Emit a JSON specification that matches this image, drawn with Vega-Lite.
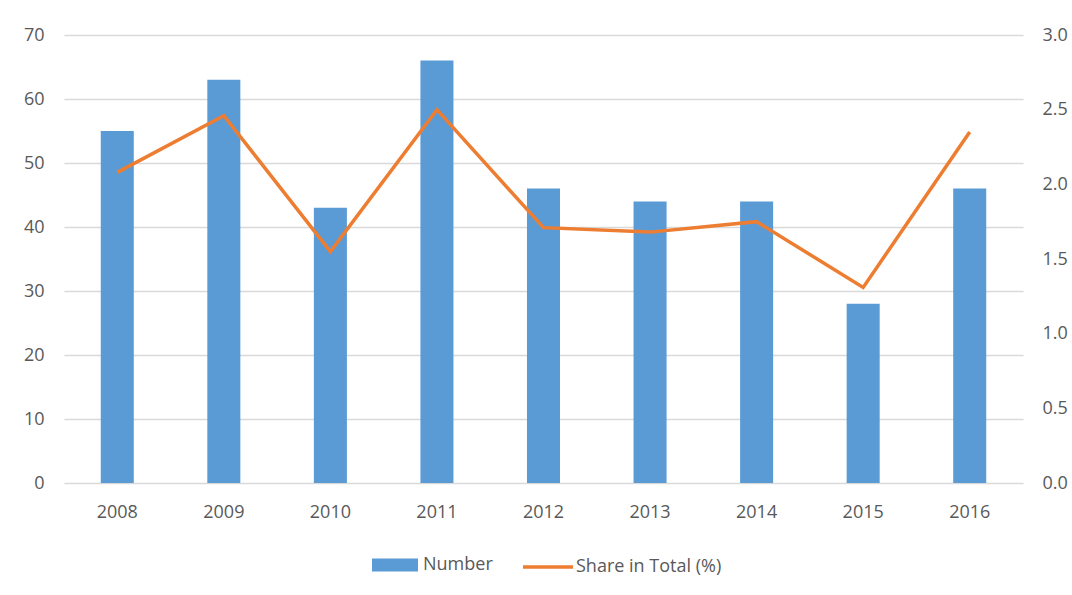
{
  "$schema": "https://vega.github.io/schema/vega-lite/v6.json",
  "width": 959,
  "height": 448,
  "autosize": {"type": "none"},
  "padding": {"left": 64, "top": 35, "right": 49, "bottom": 112},
  "background": "white",
  "config": {
    "font": "Open Sans",
    "view": {"stroke": null},
    "axis": {"labelFont": "Open Sans", "labelFontSize": 18, "labelColor": "#595959", "ticks": false, "domain": false, "title": null},
    "legend": {"labelFont": "Open Sans", "labelFontSize": 18, "labelColor": "#595959", "orient": "none", "direction": "horizontal", "title": null, "padding": 0}
  },
  "data": {
    "values": [
      {"year": "2008", "number": 55, "share": 2.08},
      {"year": "2009", "number": 63, "share": 2.46},
      {"year": "2010", "number": 43, "share": 1.55},
      {"year": "2011", "number": 66, "share": 2.5},
      {"year": "2012", "number": 46, "share": 1.71},
      {"year": "2013", "number": 44, "share": 1.68},
      {"year": "2014", "number": 44, "share": 1.75},
      {"year": "2015", "number": 28, "share": 1.31},
      {"year": "2016", "number": 46, "share": 2.35}
    ]
  },
  "encoding": {
    "x": {
      "field": "year",
      "type": "nominal",
      "scale": {"paddingInner": 0.69, "paddingOuter": 0.345},
      "axis": {"labelAngle": 0, "labelPadding": 20, "grid": false}
    }
  },
  "layer": [
    {
      "mark": {"type": "bar", "color": "#5B9BD5"},
      "encoding": {
        "y": {
          "field": "number",
          "type": "quantitative",
          "scale": {"domain": [0, 70], "nice": false},
          "axis": {"values": [0, 10, 20, 30, 40, 50, 60, 70], "grid": true, "gridColor": "#D9D9D9", "gridWidth": 1.3, "labelPadding": 20, "orient": "left"}
        },
        "fill": {
          "datum": "Number",
          "scale": {"range": ["#5B9BD5"]},
          "legend": {"orient": "none", "legendX": 308, "legendY": 507, "symbolType": "M-1,-0.28H1V0.28H-1Z", "symbolSize": 2116, "symbolStrokeWidth": 0, "labelOffset": 5}
        }
      }
    },
    {
      "mark": {"type": "line", "color": "#ED7D31", "strokeWidth": 3.5},
      "encoding": {
        "y": {
          "field": "share",
          "type": "quantitative",
          "scale": {"domain": [0, 3], "nice": false},
          "axis": {"values": [0, 0.5, 1, 1.5, 2, 2.5, 3], "format": ".1f", "grid": false, "labelPadding": 19, "orient": "right"}
        },
        "stroke": {
          "datum": "Share in Total (%)",
          "scale": {"range": ["#ED7D31"]},
          "legend": {"orient": "none", "legendX": 457, "legendY": 505, "symbolType": "stroke", "symbolSize": 2500, "symbolStrokeWidth": 3.5, "labelOffset": 1}
        }
      }
    }
  ],
  "resolve": {"scale": {"y": "independent", "fill": "independent", "stroke": "independent"}}
}
